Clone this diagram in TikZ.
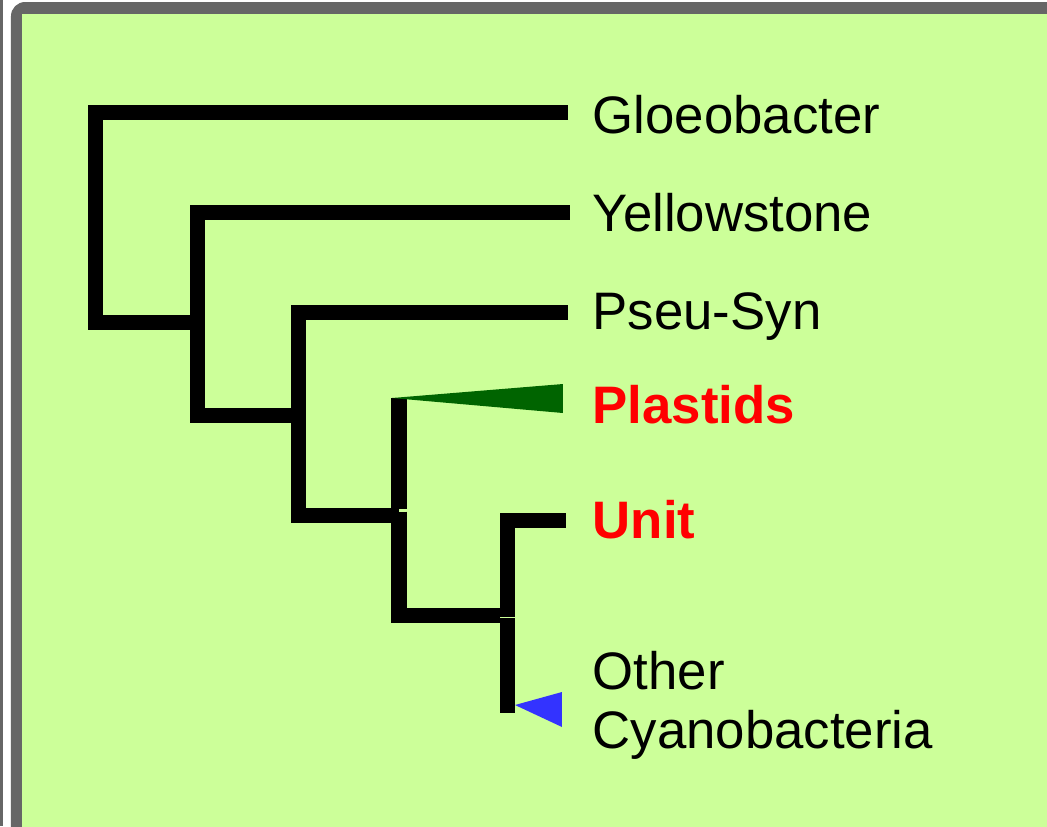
\documentclass[tikz,border=0pt]{standalone}
\usepackage{fontspec}
\setmainfont{Liberation Sans}
\usepackage{tikz}
\usetikzlibrary{calc,positioning}
\definecolor{framegray}{HTML}{666666}
\definecolor{paleleaf}{HTML}{CCFF99}
\definecolor{plastidgreen}{HTML}{006400}
\definecolor{cyanoblue}{HTML}{3333FF}
\definecolor{hotred}{HTML}{FF0000}

\begin{document}
\begin{tikzpicture}[x=0.01cm,y=-0.01cm,
    branch/.style={line width=0.15cm,line cap=butt,line join=miter,black},
    taxon/.style={anchor=base west,inner sep=0,font=\fontsize{15pt}{16.5pt}\selectfont},
    redtaxon/.style={taxon,hotred,font=\fontsize{15pt}{16.5pt}\selectfont\bfseries}]
          \useasboundingbox (0,0) rectangle (1047,826);
          \clip (0,0) rectangle (1047,826);
          % Frame and panel
          \fill[white] (0,0) rectangle (1047,826);
          \fill[framegray] (0,0) rectangle (3,826);
          \fill[framegray,rounded corners=4] (11,2) rectangle (1080,860);
          \fill[paleleaf] (22,14) rectangle (1080,860);
          % Tree nodes
          \coordinate (root) at (95.5,322.5);
          \coordinate (yel) at (197.5,415);
          \coordinate (pse) at (298.5,515);
          \coordinate (pla) at (399,615.5);
          \coordinate (uni) at (507.5,616.5);
          % Tips
          \coordinate (tglo) at (568,112.5);
          \coordinate (tyel) at (570,212.5);
          \coordinate (tpse) at (568,312.5);
          \coordinate (tuni) at (566,520.5);
          % Branches
          \draw[branch] (tglo) -| (root) -- (root -| yel);
          \draw[branch] (tyel) -| (yel) -- (yel -| pse);
          \draw[branch] (tpse) -| (pse) -- (pse -| pla);
          \draw[branch] ($(pla)+(0,-217.5)$) -- ($(pla)+(0,-106.5)$);
          \draw[branch] ($(pla)+(0,-104)$) -- (pla) -- ($(pla)+(101,0)$);
          \draw[branch] (tuni) -| (uni);
          \draw[branch] ($(uni)+(0,1.5)$) -- ($(uni)+(0,96.5)$);
          % Collapsed clades
          \fill[plastidgreen] (392,398) -- (563,384) -- (563,413) -- cycle;
          \fill[cyanoblue] (515,705) -- (562,692) -- (562,727) -- cycle;
          % Labels
          \node[taxon] (glo) at (592,133) {Gloeobacter};
          \node[taxon] (yell) at (592,231) {Yellowstone};
          \node[taxon] (pseu) at (592,329.5) {Pseu-Syn};
          \node[redtaxon] (plas) at (592,423.5) {Plastids};
          \node[redtaxon] (unit) at (592,538) {Unit};
          \node[taxon,align=left] (other) at (592,748) {Other\\Cyanobacteria};
\end{tikzpicture}
\end{document}
